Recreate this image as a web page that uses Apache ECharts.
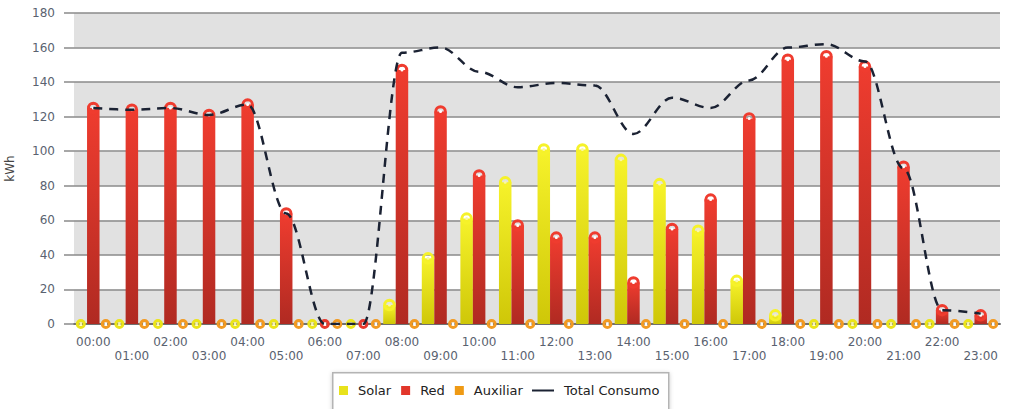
<!DOCTYPE html>
<html>
<head>
<meta charset="utf-8">
<script src="https://cdn.jsdelivr.net/npm/echarts@6/dist/echarts.min.js"></script>
<style>
  html, body { margin: 0; padding: 0; background: #fff; }
  #chart { width: 1021px; height: 409px; }
</style>
</head>
<body>
<div id="chart"></div>
<script>
// horas del día
var horas = ["00:00", "01:00", "02:00", "03:00", "04:00", "05:00", "06:00", "07:00",
  "08:00", "09:00", "10:00", "11:00", "12:00", "13:00", "14:00", "15:00",
  "16:00", "17:00", "18:00", "19:00", "20:00", "21:00", "22:00", "23:00"];

// kWh por hora
var solar = [0, 0, 0, 0, 0, 0, 0, 0, 11, 38, 61, 82, 101, 101, 95, 81, 54, 25, 5, 0, 0, 0, 0, 0];
var red = [125, 124, 125, 121, 127, 64, 0, 0, 147, 123, 86, 57, 50, 50, 24, 55, 72, 119, 153, 155, 149, 91, 8, 5];
var auxiliar = [0, 0, 0, 0, 0, 0, 0, 0, 0, 0, 0, 0, 0, 0, 0, 0, 0, 0, 0, 0, 0, 0, 0, 0];
var totalConsumo = [125, 124, 125, 121, 127, 64, 0, 0, 157, 160, 146, 137, 139.5, 138, 110, 131, 125, 141, 160, 162, 152, 90, 8, 6];

var yTicks = { min: 0, max: 180, interval: 20 };

var chartDom = document.getElementById("chart");
var myChart = echarts.init(chartDom, null, { renderer: "svg" });

function grad(top, bottom) {
  return new echarts.graphic.LinearGradient(0, 0, 0, 1, [
    { offset: 0, color: top },
    { offset: 1, color: bottom }
  ]);
}

// barra con "tapa" redonda y punto en el extremo
function barSerie(name, data, top, bottom, dotFill, dotBorder) {
  return {
    name: name,
    type: "bar",
    data: data,
    barWidth: 12.5,
    barGap: "0%",
    itemStyle: { color: grad(top, bottom) },
    label: {
      show: true,
      position: "top",
      distance: -1.5,
      formatter: function (p) { return p.value ? "{d| }" : "{z| }"; },
      rich: {
        d: {
          width: 3, height: 3, borderRadius: 8,
          backgroundColor: dotFill, borderColor: top, borderWidth: 4.75
        },
        z: {
          width: 3, height: 3, borderRadius: 8,
          backgroundColor: dotFill, borderColor: dotBorder, borderWidth: 3.5
        }
      }
    }
  };
}

var font = "DejaVu Sans";

var option = {
  backgroundColor: "#fff",
  animation: false,
  grid: { left: 74, right: 21, top: 13, bottom: 85, outerBoundsMode: "none" },
  graphic: [
    {
      type: "rect",
      left: 332, top: 372, z: 1,
      shape: { width: 336, height: 50 },
      style: { fill: "#fff", stroke: "#b4b4b4", lineWidth: 1.5, shadowBlur: 4, shadowColor: "rgba(0,0,0,0.2)", shadowOffsetY: 1 }
    }
  ],
  legend: [
    {
      data: [
        { name: "Solar", icon: "rect", itemStyle: { color: "#e8e21c" } },
        { name: "Red", icon: "rect", itemStyle: { color: "#e2362b" } },
        { name: "Auxiliar", icon: "rect", itemStyle: { color: "#ef9a14" } }
      ],
      left: 339, top: 384, padding: 0, z: 5,
      itemWidth: 9, itemHeight: 9, itemGap: 10,
      textStyle: { fontFamily: font, fontSize: 13, color: "#222", padding: [0, 0, 0, 5] }
    },
    {
      data: [{ name: "Total Consumo", icon: "rect", itemStyle: { color: "#1b2233" } }],
      left: 532, top: 384, padding: 0, z: 5,
      itemWidth: 22, itemHeight: 2,
      textStyle: { fontFamily: font, fontSize: 13, color: "#222", padding: [0, 0, 0, 5] }
    }
  ],
  xAxis: {
    type: "category",
    data: horas,
    boundaryGap: true,
    axisLine: { lineStyle: { color: "#707070", width: 2 } },
    axisTick: { alignWithLabel: true, length: 5, lineStyle: { color: "#707070" } },
    axisLabel: {
      interval: 0,
      margin: 11,
      fontFamily: font,
      fontSize: 12,
      lineHeight: 14,
      color: "#5a6270",
      formatter: function (v, i) { return i % 2 ? "\n" + v : v; }
    }
  },
  yAxis: [
    {
      type: "value",
      min: yTicks.min, max: yTicks.max, interval: yTicks.interval,
      name: "kWh",
      nameLocation: "middle",
      nameGap: 58,
      nameTextStyle: { fontFamily: font, fontSize: 12, color: "#444" },
      axisLine: { show: false },
      axisTick: { show: true, length: 10, lineStyle: { color: "#8a8a8a", width: 1.5 } },
      axisLabel: { margin: 19, fontFamily: font, fontSize: 12, color: "#5a6270" },
      splitLine: { lineStyle: { color: "#8a8a8a", width: 1.5 } },
      splitArea: { show: true, areaStyle: { color: ["#e1e1e1", "#ffffff"] } }
    },
    {
      type: "value",
      position: "right",
      min: yTicks.min, max: yTicks.max, interval: yTicks.interval,
      axisLine: { show: true, lineStyle: { color: "#9a9a9a", width: 2, shadowBlur: 3, shadowColor: "rgba(0,0,0,0.25)", shadowOffsetX: 1 } },
      axisTick: { show: false },
      axisLabel: { show: false },
      splitLine: { show: false }
    }
  ],
  series: [
    barSerie("Solar", solar, "#f6f22a", "#cfc708", "#f9f6a8", "#ebe41a"),
    barSerie("Red", red, "#ef3c2f", "#b02a22", "#ffffff", "#e8392d"),
    barSerie("Auxiliar", auxiliar, "#f5a624", "#d8800c", "#ffffff", "#f29a22"),
    {
      name: "Total Consumo",
      type: "line",
      data: totalConsumo,
      smooth: 0.35,
      smoothMonotone: "x",
      symbol: "none",
      z: 6,
      itemStyle: { color: "#1b2233" },
      lineStyle: { color: "#1b2233", width: 2.5, type: [9, 7] }
    }
  ]
};

option && myChart.setOption(option);
</script>
</body>
</html>
